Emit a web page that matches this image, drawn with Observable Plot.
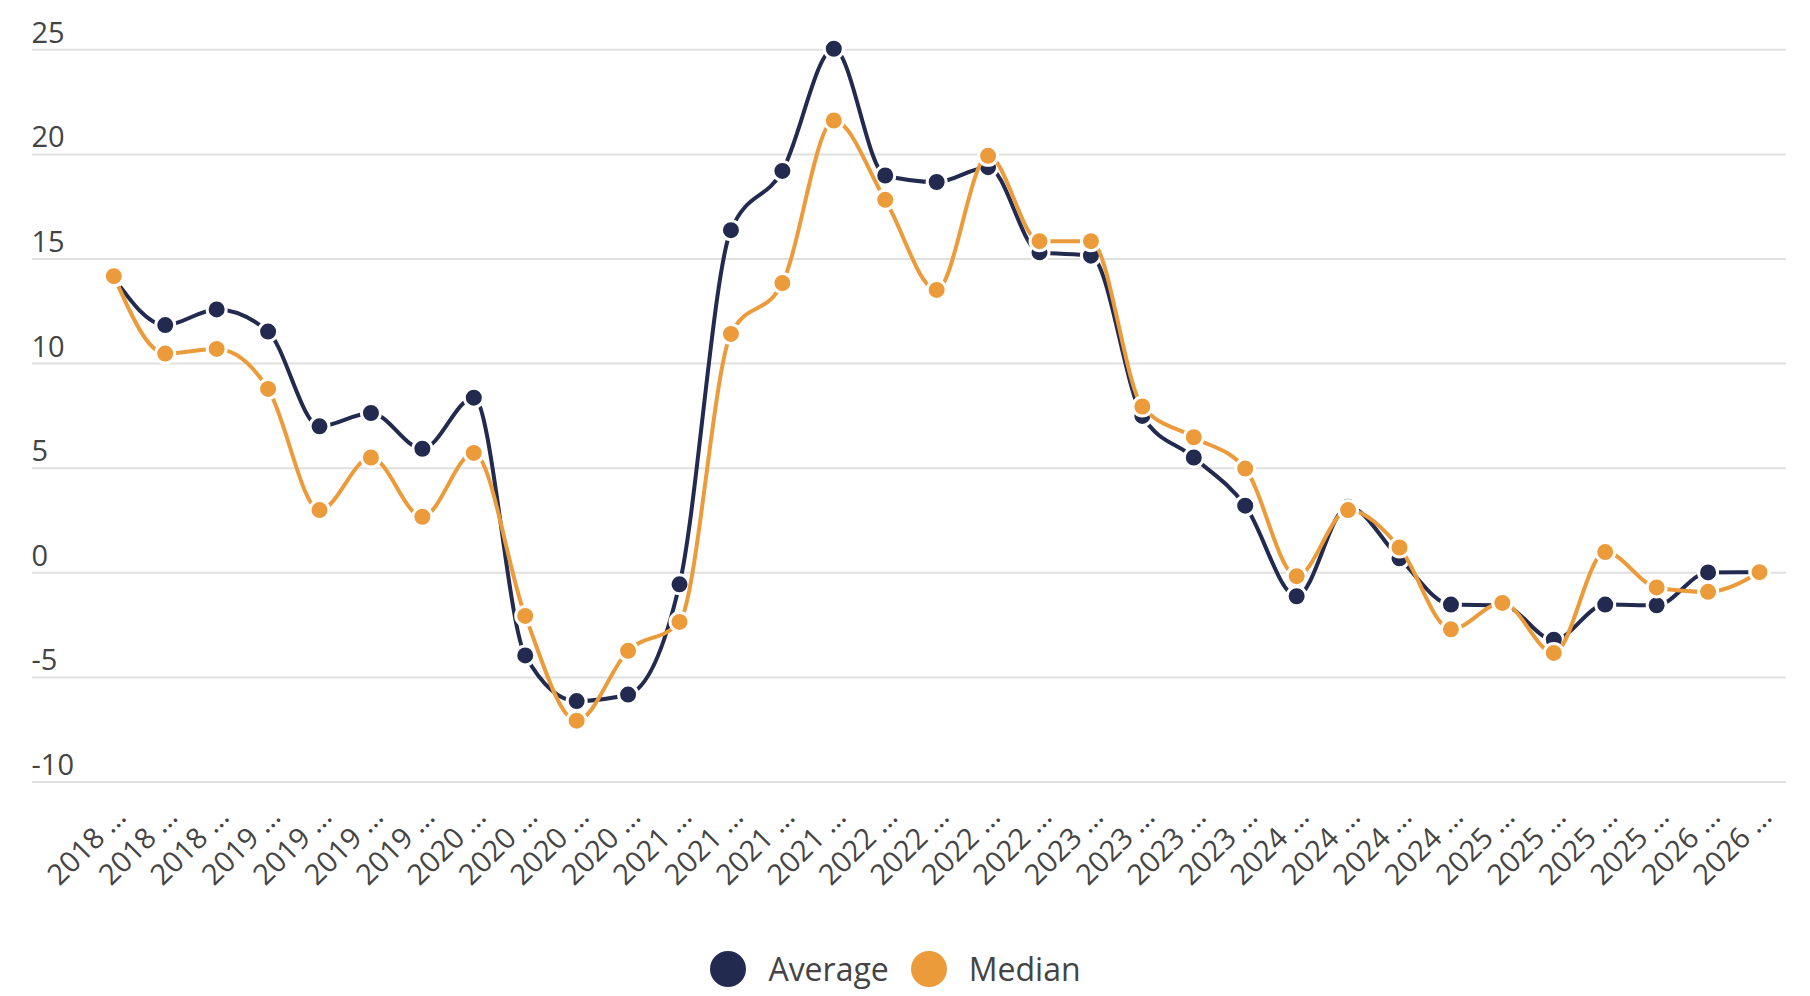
<!DOCTYPE html>
<html>
<head>
<meta charset="utf-8">
<script src="https://cdn.jsdelivr.net/npm/d3@7"></script>
<script src="https://cdn.jsdelivr.net/npm/@observablehq/plot@0.6"></script>
<style>
  html, body { margin: 0; padding: 0; background: #fff; }
  body { width: 1810px; height: 996px; overflow: hidden; font-family: "Open Sans", sans-serif; }
  #legend { display: flex; justify-content: center; align-items: center; margin-top: 27px; padding-right: 19px; }
  .item { display: flex; align-items: center; margin: 0 11px; }
  .sw { width: 36px; height: 36px; border-radius: 50%; margin-right: 22px; }
  .lbl { font-size: 32px; color: #444; }
</style>
</head>
<body>
<div id="chart"></div>
<div id="legend"></div>
<script>
const periodLabels = [
  "2018 …","2018 …","2018 …",
  "2019 …","2019 …","2019 …","2019 …",
  "2020 …","2020 …","2020 …","2020 …",
  "2021 …","2021 …","2021 …","2021 …",
  "2022 …","2022 …","2022 …","2022 …",
  "2023 …","2023 …","2023 …","2023 …",
  "2024 …","2024 …","2024 …","2024 …",
  "2025 …","2025 …","2025 …","2025 …",
  "2026 …","2026 …"
];
const averageValues = [14.1, 11.84, 12.59, 11.53, 7.0, 7.64, 5.93, 8.37, -3.95, -6.13, -5.82, -0.55, 16.38, 19.21, 25.05, 18.99, 18.68, 19.39, 15.32, 15.16, 7.5, 5.51, 3.21, -1.12, 3.16, 0.69, -1.52, -1.55, -3.2, -1.52, -1.55, 0.02, 0.03];
const medianValues = [14.18, 10.48, 10.70, 8.79, 3.0, 5.51, 2.68, 5.73, -2.06, -7.07, -3.73, -2.35, 11.42, 13.85, 21.62, 17.83, 13.52, 19.93, 15.85, 15.85, 7.95, 6.48, 4.98, -0.16, 3.0, 1.21, -2.7, -1.44, -3.83, 0.99, -0.7, -0.91, 0.03];
const yTicks = [-10, -5, 0, 5, 10, 15, 20, 25];
const seriesNames = ["Average", "Median"];
const seriesColors = ["#232a4f", "#ec9b3b"];

const idx = periodLabels.map((_, i) => i);
const avg = idx.map(i => ({i, v: averageValues[i]}));
const med = idx.map(i => ({i, v: medianValues[i]}));

const W = 1810, H = 920;
const labelColor = "#444";

const chart = Plot.plot({
  width: W,
  height: H,
  marginLeft: 32,
  marginRight: 24,
  marginTop: 49.3,
  marginBottom: H - 781.5,
  style: {fontFamily: "Open Sans, sans-serif", background: "#fff"},
  x: {type: "linear", domain: [0, periodLabels.length - 1], range: [113.3, 1759], axis: null},
  y: {domain: [-10, 25], range: [781.5, 49.3], axis: null},
  marks: [
    Plot.ruleY(yTicks, {stroke: "#e0e0e0", strokeWidth: 2}),
    Plot.text(yTicks, {y: d => d, frameAnchor: "left", text: d => String(d), textAnchor: "start", lineAnchor: "bottom", dx: -1, dy: -7, fontSize: 29, fill: labelColor}),
    Plot.text(idx, {x: d => d, frameAnchor: "bottom", text: d => periodLabels[d], rotate: -45, textAnchor: "end", lineAnchor: "bottom", dx: 14, dy: 36.5, fontSize: 29, fill: labelColor}),
    Plot.line(avg, {x: "i", y: "v", stroke: seriesColors[0], strokeWidth: 4, curve: "monotone-x"}),
    Plot.dot(avg, {x: "i", y: "v", r: 9.5, fill: seriesColors[0], stroke: "#fff", strokeWidth: 3}),
    Plot.line(med, {x: "i", y: "v", stroke: seriesColors[1], strokeWidth: 4, curve: "monotone-x"}),
    Plot.dot(med, {x: "i", y: "v", r: 9.5, fill: seriesColors[1], stroke: "#fff", strokeWidth: 3})
  ]
});
document.getElementById("chart").appendChild(chart);

const legend = document.getElementById("legend");
seriesNames.forEach((name, k) => {
  const it = document.createElement("div");
  it.className = "item";
  const sw = document.createElement("div");
  sw.className = "sw";
  sw.style.background = seriesColors[k];
  const lb = document.createElement("span");
  lb.className = "lbl";
  lb.textContent = name;
  it.appendChild(sw);
  it.appendChild(lb);
  legend.appendChild(it);
});
</script>
</body>
</html>
